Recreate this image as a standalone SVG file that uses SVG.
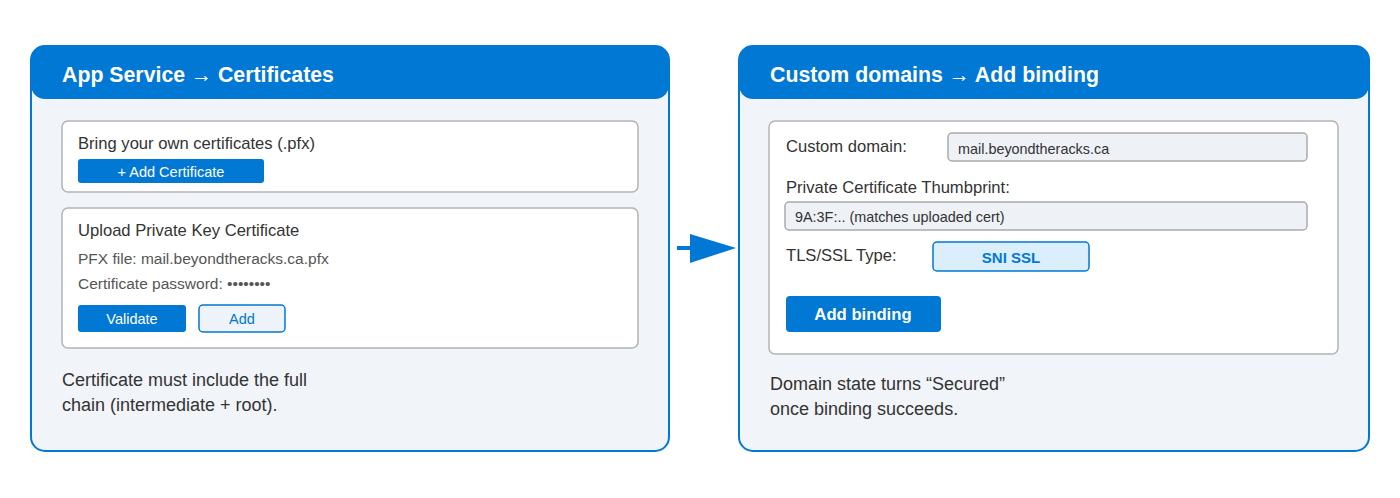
<svg xmlns="http://www.w3.org/2000/svg" width="1400" height="498" viewBox="0 0 1400 498">
<style>
text{font-family:"Liberation Sans",Arial,sans-serif}
.panel{fill:#f1f4f9;stroke:#0078d4;stroke-width:2}
.hdr{fill:#0078d4}
.title{fill:#fff;font-size:21.3px;font-weight:bold}
.arr{font-weight:normal;font-size:21px}
.card{fill:#fff;stroke:#b4b4b4;stroke-width:1.5}
.lbl{fill:#333;font-size:16.6px}
.sub{fill:#555;font-size:15.5px}
.btn{fill:#0078d4}
.btnt{fill:#fff;font-size:14.5px;text-anchor:middle}
.input{fill:#eef1f6;stroke:#aaa;stroke-width:1.5}
.inpt{fill:#333;font-size:14.4px}
.cap{fill:#333;font-size:18px}
</style>
<rect width="1400" height="498" fill="#fff"/>
<g id="panel-certificates">
<rect class="panel" x="31" y="46" width="638" height="405" rx="14"/>
<rect class="hdr" x="31" y="46" width="638" height="53" rx="14"/>
<text class="title" x="62" y="82">App Service <tspan class="arr">→</tspan> Certificates</text>
<rect class="card" x="62" y="121" width="576" height="71" rx="6"/>
<text class="lbl" x="78" y="149">Bring your own certificates (.pfx)</text>
<rect class="btn" x="78" y="159" width="186" height="24" rx="3"/>
<text class="btnt" x="171" y="177">+ Add Certificate</text>
<rect class="card" x="62" y="208" width="576" height="140" rx="6"/>
<text class="lbl" x="78" y="236">Upload Private Key Certificate</text>
<text class="sub" x="78" y="264">PFX file: mail.beyondtheracks.ca.pfx</text>
<text class="sub" x="78" y="289">Certificate password: ••••••••</text>
<rect class="btn" x="78" y="305" width="108" height="27" rx="3"/>
<text class="btnt" x="132" y="324">Validate</text>
<rect x="199" y="305" width="86" height="27" rx="4" fill="#eef3fa" stroke="#0078d4" stroke-width="1.5"/>
<text class="btnt" x="242" y="324" style="fill:#0078d4">Add</text>
<text class="cap" x="62" y="386">Certificate must include the full</text>
<text class="cap" x="62" y="411">chain (intermediate + root).</text>
</g>
<g id="connectors">
<line x1="677" y1="248" x2="692" y2="248" stroke="#0078d4" stroke-width="4"/>
<polygon points="690,234 736,248 690,263" fill="#0078d4"/>
</g>
<g id="panel-binding">
<rect class="panel" x="739" y="46" width="630" height="405" rx="14"/>
<rect class="hdr" x="739" y="46" width="630" height="53" rx="14"/>
<text class="title" x="770" y="82">Custom domains <tspan class="arr">→</tspan> Add binding</text>
<rect class="card" x="769" y="121" width="569" height="233" rx="6"/>
<text class="lbl" x="786" y="152">Custom domain:</text>
<rect class="input" x="948" y="133" width="359" height="28" rx="4"/>
<text class="inpt" x="958" y="154">mail.beyondtheracks.ca</text>
<text class="lbl" x="786" y="193">Private Certificate Thumbprint:</text>
<rect class="input" x="785" y="202" width="522" height="28" rx="4"/>
<text class="inpt" x="795" y="222">9A:3F:.. (matches uploaded cert)</text>
<text class="lbl" x="786" y="261">TLS/SSL Type:</text>
<rect x="933" y="242" width="156" height="29" rx="4" fill="#dbeefc" stroke="#0078d4" stroke-width="1.5"/>
<text x="1011" y="263" font-size="15" font-weight="bold" fill="#0078d4" text-anchor="middle">SNI SSL</text>
<rect class="btn" x="786" y="296" width="155" height="36" rx="4"/>
<text x="863" y="320" font-size="16.7" font-weight="bold" fill="#fff" text-anchor="middle">Add binding</text>
<text class="cap" x="770" y="390">Domain state turns “Secured”</text>
<text class="cap" x="770" y="415">once binding succeeds.</text>
</g>
</svg>
